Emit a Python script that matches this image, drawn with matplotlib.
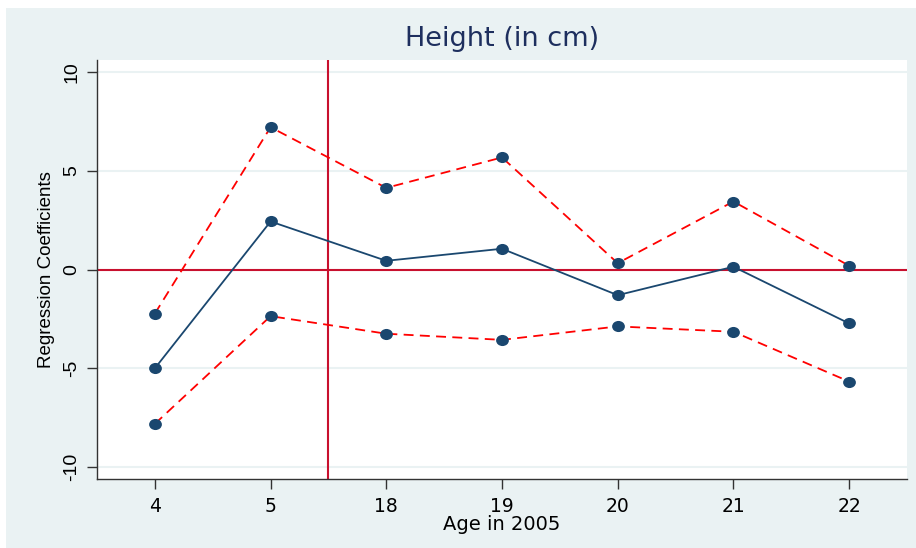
import matplotlib
matplotlib.use('Agg')
import matplotlib.pyplot as plt
from matplotlib.patches import Rectangle
from matplotlib.path import Path
from matplotlib.transforms import Affine2D

# data
ages = ['4', '5', '18', '19', '20', '21', '22']
coef = [-5.0, 2.43, 0.44, 1.05, -1.30, 0.14, -2.73]
ci_upper = [-2.23, 7.2, 4.13, 5.67, 0.32, 3.44, 0.19]
ci_lower = [-7.81, -2.36, -3.25, -3.56, -2.88, -3.15, -5.67]
y_ticks = [-10, -5, 0, 5, 10]

NAVY = '#1a476f'
TITLE_NAVY = '#1e2f5e'
RED = '#ff0000'
CRANBERRY = '#c8102e'
BG = '#eaf2f3'

plt.rcParams['font.family'] = ['Liberation Sans', 'DejaVu Sans']
WIDE = ['DejaVu Sans']  # horizontal text in the reference is drawn wide

W, H = 916, 548
fig = plt.figure(figsize=(W / 100, H / 100), dpi=100, facecolor='white')
fig.patches.append(Rectangle((6 / W, 0), 1 - 6 / W, 1 - 8 / H,
                             transform=fig.transFigure, facecolor=BG,
                             edgecolor='none', zorder=-10))

ax = fig.add_axes([97 / W, (H - 479) / H, (907 - 97) / W, (479 - 60) / H])
ax.set_facecolor('white')

x = list(range(1, len(ages) + 1))

# slightly wide dots, like the reference
dot = Affine2D().scale(1.15, 1.0).transform_path(Path.unit_circle())

# grid
for yt in y_ticks:
    if yt != 0:
        ax.axhline(yt, color=BG, lw=1.5, zorder=0)

ax.axhline(0, color=CRANBERRY, lw=1.5, zorder=1)
ax.axvline(2.5, color=CRANBERRY, lw=1.5, zorder=1)

ax.plot(x, ci_upper, color=RED, lw=1.3, dashes=(5.5, 3.5), zorder=2)
ax.plot(x, ci_lower, color=RED, lw=1.3, dashes=(5.5, 3.5), zorder=2)
ax.plot(x, coef, color=NAVY, lw=1.3, zorder=2)
for s in (ci_upper, ci_lower, coef):
    ax.plot(x, s, ls='none', marker=dot, ms=9.2, color=NAVY,
            markeredgewidth=0, zorder=3)

ax.set_xlim(0.5, 7.5)
ax.set_ylim(-10.6, 10.6)
ax.set_xticks(x)
ax.set_xticklabels(ages, fontsize=13.5, family=WIDE)
ax.set_yticks(y_ticks)
ax.set_yticklabels([str(v) for v in y_ticks], fontsize=14, rotation=90,
                   va='center')

for side in ('top', 'right'):
    ax.spines[side].set_visible(False)
for side in ('left', 'bottom'):
    ax.spines[side].set_color('#333333')
    ax.spines[side].set_linewidth(1.0)
ax.tick_params(axis='both', direction='out', length=7, width=1.0,
               color='#333333', pad=5)
ax.tick_params(axis='x', pad=6)

ax.set_xlabel('Age in 2005', fontsize=14, family=WIDE, labelpad=-1)
ax.set_ylabel('Regression Coefficients', fontsize=13.5, labelpad=6)
ax.set_title('Height (in cm)', fontsize=19.5, color=TITLE_NAVY,
             family=WIDE, pad=10)

fig.savefig('out.png', dpi=100, facecolor=fig.get_facecolor())
